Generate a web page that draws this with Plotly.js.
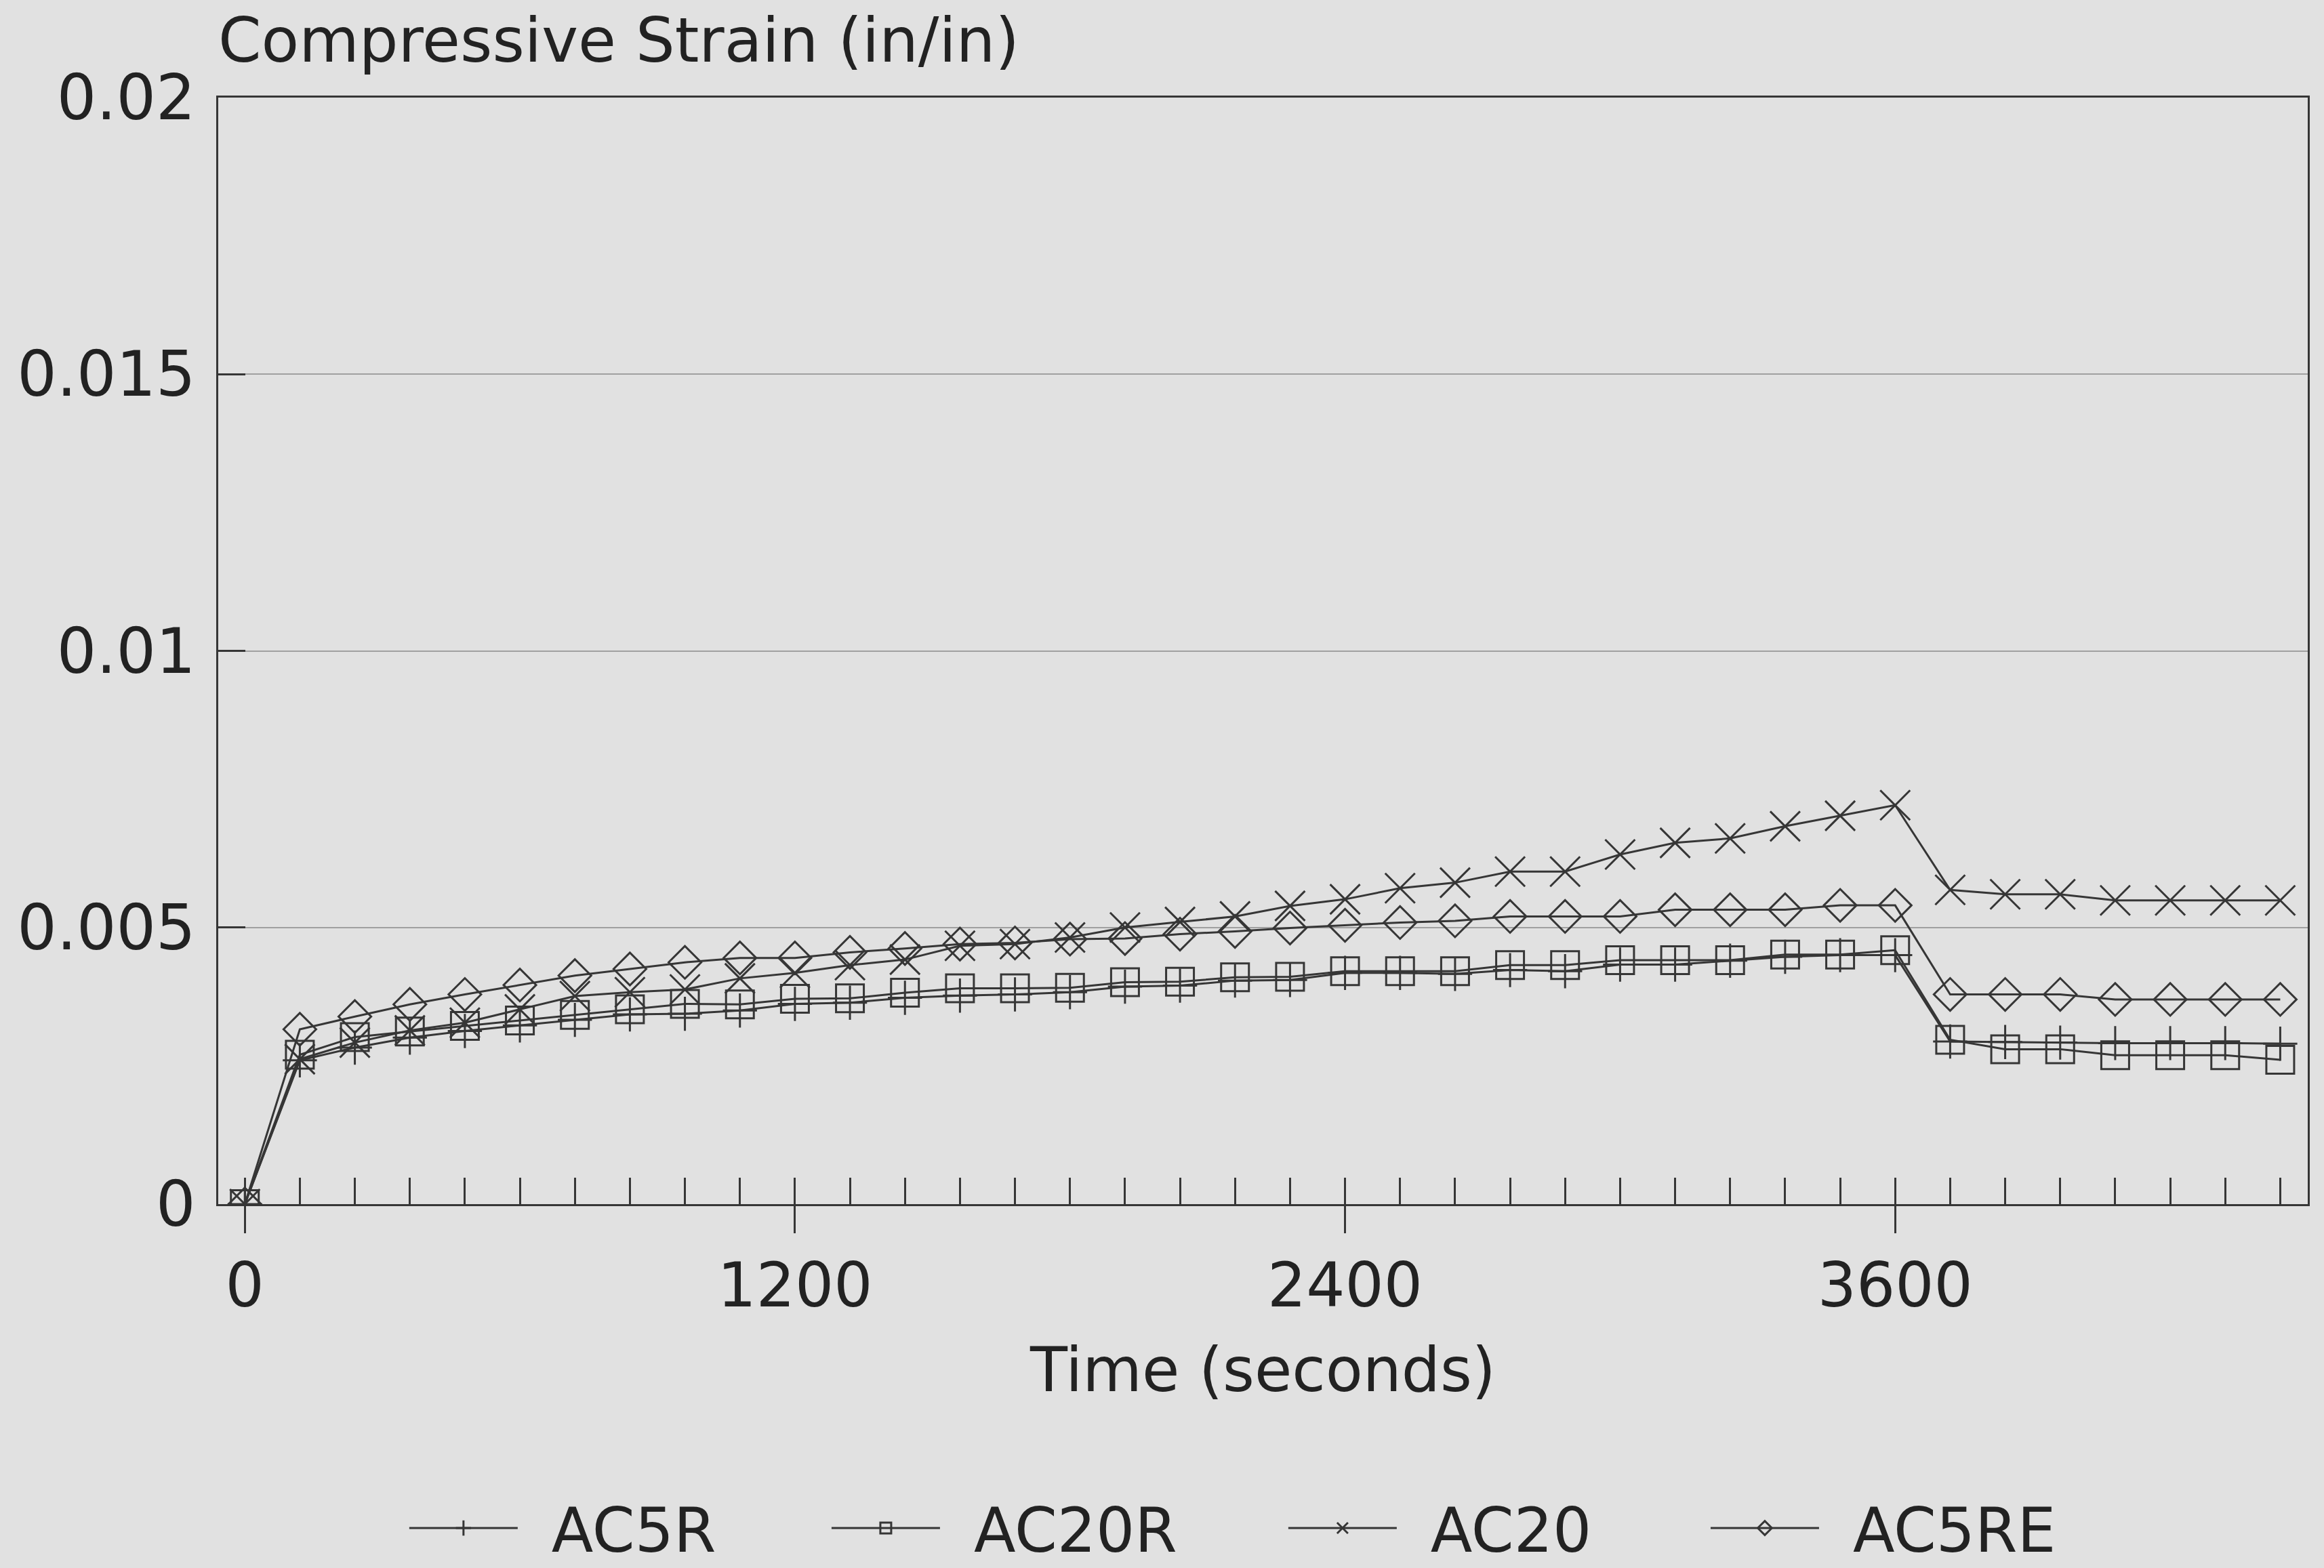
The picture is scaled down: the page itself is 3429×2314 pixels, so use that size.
<!DOCTYPE html>
<html>
<head>
<meta charset="utf-8">
<script src="https://cdn.plot.ly/plotly-3.0.1.min.js"></script>
<style>html,body{margin:0;padding:0;background:#e1e1e1;}</style>
</head>
<body>
<div id="chart" style="width:3429px;height:2314px;"></div>
<script>
// Time (seconds)
const time = [0,120,240,360,480,600,720,840,960,1080,
  1200,1320,1440,1560,1680,1800,1920,2040,2160,2280,
  2400,2520,2640,2760,2880,3000,3120,3240,3360,3480,
  3600,3720,3840,3960,4080,4200,4320,4440];

// Compressive strain (in/in)
const ac5r = [0,0.0026,0.00283,0.00301,0.00313,0.00323,0.00333,0.00343,0.00344,0.0035,
  0.00362,0.00364,0.00373,0.00377,0.00379,0.00383,0.00393,0.00395,0.00404,0.00405,
  0.00418,0.00418,0.00416,0.00423,0.00421,0.00433,0.00433,0.0044,0.00447,0.0045,
  0.0045,0.00294,0.00293,0.00292,0.00291,0.00291,0.00291,0.0029];

const ac20r = [0,0.0027,0.00302,0.00312,0.00322,0.00332,0.00342,0.00352,0.00362,0.00361,
  0.00371,0.00372,0.00382,0.0039,0.0039,0.00391,0.00401,0.00402,0.0041,0.00411,
  0.00421,0.00421,0.00421,0.00432,0.00432,0.00441,0.00441,0.00441,0.00451,0.00451,
  0.00459,0.00297,0.0028,0.0028,0.00269,0.00269,0.00269,0.00261];

const ac20 = [0,0.00262,0.00292,0.00314,0.00328,0.00352,0.00376,0.00383,0.00388,0.00408,
  0.00418,0.00432,0.00442,0.00467,0.0047,0.00482,0.005,0.0051,0.0052,0.00539,
  0.00551,0.00571,0.00581,0.00601,0.00601,0.00632,0.00653,0.00661,0.00683,0.00702,
  0.00721,0.00568,0.0056,0.0056,0.00549,0.00549,0.00549,0.00549];

const ac5re = [0,0.00316,0.00339,0.00361,0.00379,0.00396,0.00413,0.00425,0.00437,0.00445,
  0.00445,0.00455,0.00462,0.0047,0.00472,0.00479,0.0048,0.00488,0.00493,0.00499,
  0.00504,0.00509,0.00512,0.0052,0.0052,0.0052,0.00532,0.00532,0.00532,0.0054,
  0.0054,0.00379,0.00379,0.00379,0.0037,0.0037,0.0037,0.0037];

const seriesNames = ['AC5R','AC20R','AC20','AC5RE'];
const seriesValues = [ac5r, ac20r, ac20, ac5re];
const symbols = ['cross-thin-open','square-open','x-thin-open','diamond-open'];
const sizes = [36, 41, 44, 37];
const legendIds = ['legend','legend2','legend3','legend4'];
const legendX = [0.0898, 0.2919, 0.5105, 0.7126];

const ink = '#363636';
const traces = seriesNames.map((name, i) => ({
  type: 'scatter',
  mode: 'lines+markers',
  name: '\u2002' + name,
  x: time,
  y: seriesValues[i],
  legend: legendIds[i],
  line: {color: ink, width: 3},
  marker: {symbol: symbols[i], size: sizes[i], color: ink, line: {color: ink, width: 3}}
}));

const legendCommon = {
  orientation: 'h', yanchor: 'middle', y: -0.2927, xanchor: 'left',
  bgcolor: 'rgba(0,0,0,0)', borderwidth: 0, itemwidth: 160,
  font: {family: 'DejaVu Sans', size: 90, color: '#222'}
};

const layout = {
  width: 3429, height: 2314,
  margin: {l: 322, r: 24, t: 144, b: 537, pad: 0, autoexpand: false},
  paper_bgcolor: '#e1e1e1', plot_bgcolor: '#e1e1e1',
  font: {family: 'DejaVu Sans', size: 90, color: '#222'},
  showlegend: true,
  title: {
    text: 'Compressive Strain (in/in)',
    xref: 'paper', x: 0, xanchor: 'left',
    yref: 'container', y: 0.9745, yanchor: 'middle',
    font: {family: 'DejaVu Sans', size: 91, color: '#222'}
  },
  xaxis: {
    range: [-58, 4500], tickmode: 'linear', tick0: 0, dtick: 1200,
    ticks: 'outside', ticklen: 40, tickwidth: 3, tickcolor: ink,
    minor: {tick0: 0, dtick: 120, ticks: 'inside', ticklen: 39, tickwidth: 3, tickcolor: ink, showgrid: false},
    showline: true, linecolor: ink, linewidth: 3, mirror: true,
    showgrid: false, zeroline: false,
    ticklabelstandoff: 0,
    tickfont: {family: 'DejaVu Sans', size: 90, color: '#222'},
    title: {text: 'Time (seconds)', standoff: 42, font: {family: 'DejaVu Sans', size: 90, color: '#222'}}
  },
  yaxis: {
    range: [0, 0.02], tickmode: 'linear', tick0: 0, dtick: 0.005,
    ticks: 'inside', ticklen: 40, tickwidth: 3, tickcolor: ink,
    showline: true, linecolor: ink, linewidth: 3, mirror: true,
    showgrid: true, gridcolor: '#a0a0a0', gridwidth: 2, zeroline: false,
    ticklabelstandoff: 12,
    tickfont: {family: 'DejaVu Sans', size: 92, color: '#222'}
  },
  legend:  Object.assign({}, legendCommon, {x: legendX[0]}),
  legend2: Object.assign({}, legendCommon, {x: legendX[1]}),
  legend3: Object.assign({}, legendCommon, {x: legendX[2]}),
  legend4: Object.assign({}, legendCommon, {x: legendX[3]})
};

Plotly.newPlot('chart', traces, layout, {staticPlot: true, displayModeBar: false});
</script>
</body>
</html>
